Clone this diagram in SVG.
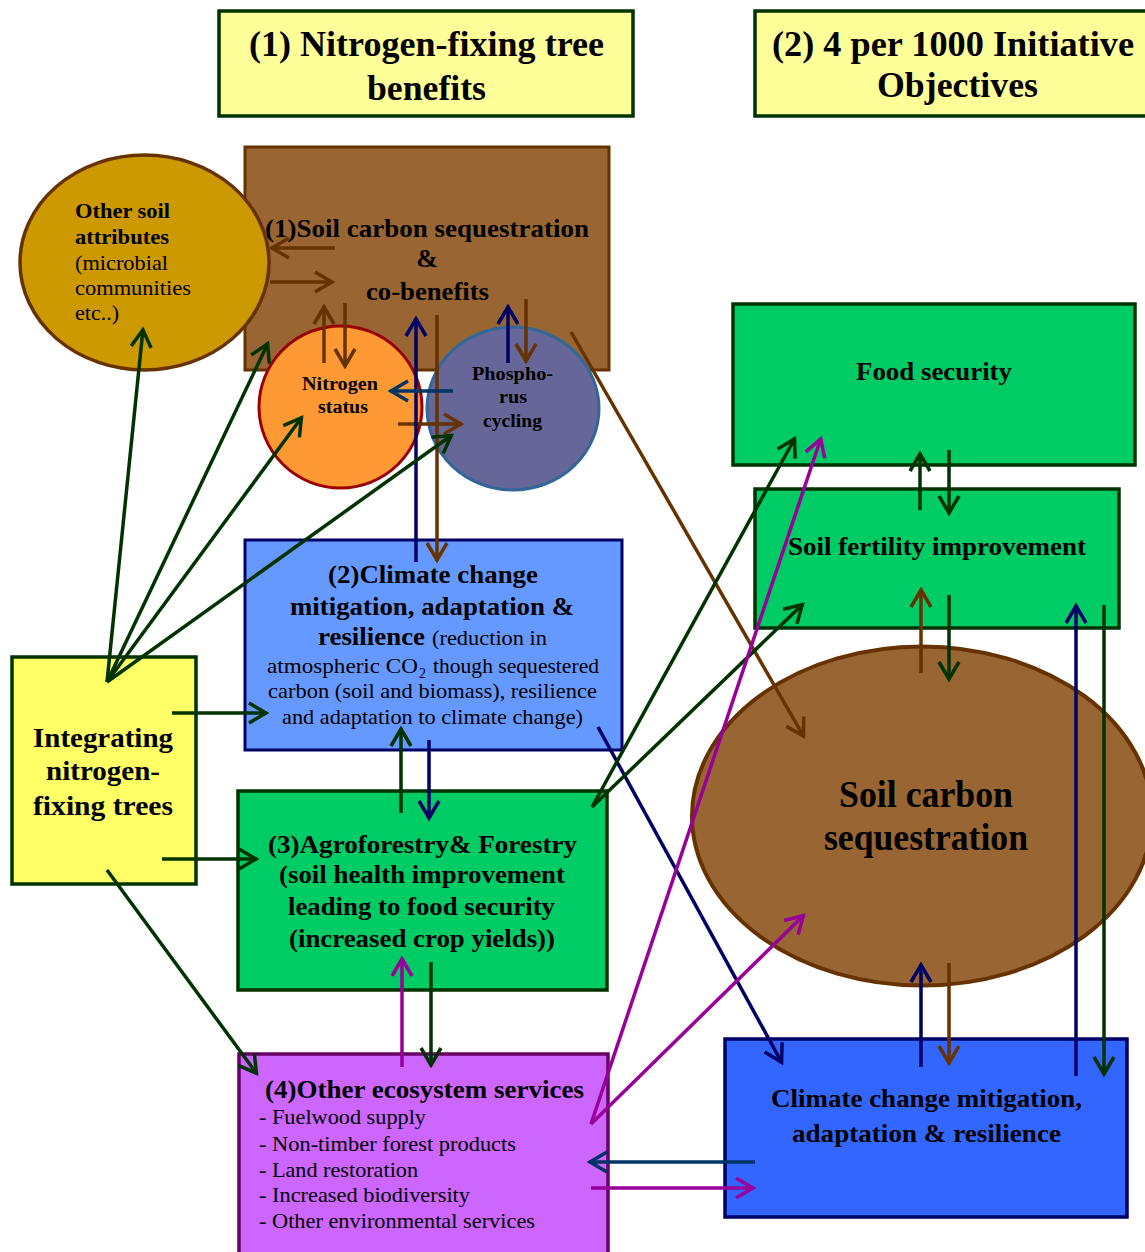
<svg xmlns="http://www.w3.org/2000/svg" width="1145" height="1252" viewBox="0 0 1145 1252">
<defs>
<style>
text{font-family:"Liberation Serif","Times New Roman",serif;fill:#000}
.b{font-weight:bold}
.t{font-size:35px;font-weight:bold}
.c{fill:none;stroke-width:3.5}
.g{stroke:#003300}
.n{stroke:#000066}
.n2{stroke:#003366}
.br{stroke:#663300}
.p{stroke:#990099}
</style>
<marker id="mg" viewBox="-22 -13 26 26" refX="0" refY="0" markerWidth="26" markerHeight="26" orient="auto" markerUnits="userSpaceOnUse"><path d="M-18,-10 L-1,0 L-18,10" fill="none" stroke="#003300" stroke-width="3.5"/></marker>
<marker id="mn" viewBox="-22 -13 26 26" refX="0" refY="0" markerWidth="26" markerHeight="26" orient="auto" markerUnits="userSpaceOnUse"><path d="M-18,-10 L-1,0 L-18,10" fill="none" stroke="#000066" stroke-width="3.5"/></marker>
<marker id="mn2" viewBox="-22 -13 26 26" refX="0" refY="0" markerWidth="26" markerHeight="26" orient="auto" markerUnits="userSpaceOnUse"><path d="M-18,-10 L-1,0 L-18,10" fill="none" stroke="#003366" stroke-width="3.5"/></marker>
<marker id="mb" viewBox="-22 -13 26 26" refX="0" refY="0" markerWidth="26" markerHeight="26" orient="auto" markerUnits="userSpaceOnUse"><path d="M-18,-10 L-1,0 L-18,10" fill="none" stroke="#663300" stroke-width="3.5"/></marker>
<marker id="mp" viewBox="-22 -13 26 26" refX="0" refY="0" markerWidth="26" markerHeight="26" orient="auto" markerUnits="userSpaceOnUse"><path d="M-18,-10 L-1,0 L-18,10" fill="none" stroke="#990099" stroke-width="3.5"/></marker>
</defs>
<rect width="1145" height="1252" fill="#fff"/>

<g id="title1">
<rect x="219" y="11" width="414" height="105" fill="#FFFF99" stroke="#003300" stroke-width="3.5"/>
<text class="t" x="249" y="56" textLength="355" lengthAdjust="spacingAndGlyphs">(1) Nitrogen-fixing tree</text>
<text class="t" x="367" y="100" textLength="119" lengthAdjust="spacingAndGlyphs">benefits</text>
</g>
<g id="title2">
<rect x="755" y="11" width="395" height="105" fill="#FFFF99" stroke="#003300" stroke-width="3.5"/>
<text class="t" x="772" y="56" textLength="362" lengthAdjust="spacingAndGlyphs">(2) 4 per 1000 Initiative</text>
<text class="t" x="877" y="97" textLength="161" lengthAdjust="spacingAndGlyphs">Objectives</text>
</g>

<g id="soil-carbon-cobenefits">
<rect x="245" y="147" width="364" height="223" fill="#996633" stroke="#663300" stroke-width="3"/>
<text class="b" font-size="26" x="265" y="237" textLength="324" lengthAdjust="spacingAndGlyphs">(1)Soil carbon sequestration</text>
<text class="b" font-size="26" x="427" y="267" text-anchor="middle">&amp;</text>
<text class="b" font-size="26" x="366" y="300" textLength="123" lengthAdjust="spacingAndGlyphs">co-benefits</text>
</g>

<g id="other-soil-attributes">
<ellipse cx="144.5" cy="262.5" rx="124.5" ry="107.5" fill="#CC9900" stroke="#663300" stroke-width="3.5"/>
<text class="b" font-size="21" x="75" y="218" textLength="95" lengthAdjust="spacingAndGlyphs">Other soil</text>
<text class="b" font-size="21" x="75" y="244" textLength="94" lengthAdjust="spacingAndGlyphs">attributes</text>
<text font-size="21" x="75" y="270" textLength="93" lengthAdjust="spacingAndGlyphs">(microbial</text>
<text font-size="21" x="75" y="295" textLength="116" lengthAdjust="spacingAndGlyphs">communities</text>
<text font-size="21" x="75" y="320" textLength="44" lengthAdjust="spacingAndGlyphs">etc..)</text>
</g>

<g id="nitrogen-status">
<ellipse cx="340.5" cy="407" rx="81.5" ry="81" fill="#FF9933" stroke="#990000" stroke-width="3"/>
<text class="b" font-size="18" x="302" y="390" textLength="76" lengthAdjust="spacingAndGlyphs">Nitrogen</text>
<text class="b" font-size="18" x="318" y="413" textLength="50" lengthAdjust="spacingAndGlyphs">status</text>
</g>

<g id="phosphorus-cycling">
<ellipse cx="513" cy="408.5" rx="86" ry="81.5" fill="#666699" stroke="#336699" stroke-width="3"/>
<text class="b" font-size="18" x="472" y="380" textLength="81" lengthAdjust="spacingAndGlyphs">Phospho-</text>
<text class="b" font-size="18" x="499" y="403" textLength="28" lengthAdjust="spacingAndGlyphs">rus</text>
<text class="b" font-size="18" x="483" y="427" textLength="59" lengthAdjust="spacingAndGlyphs">cycling</text>
</g>

<g id="climate-change-2">
<rect x="245" y="540" width="377" height="210" fill="#6699FF" stroke="#000066" stroke-width="3"/>
<text class="b" font-size="25" x="328" y="583" textLength="210" lengthAdjust="spacingAndGlyphs">(2)Climate change</text>
<text class="b" font-size="25" x="290" y="615" textLength="284" lengthAdjust="spacingAndGlyphs">mitigation, adaptation &amp;</text>
<text class="b" font-size="25" x="318" y="645" textLength="107" lengthAdjust="spacingAndGlyphs">resilience</text>
<text font-size="21" x="432" y="645" textLength="115" lengthAdjust="spacingAndGlyphs">(reduction in</text>
<text font-size="21" x="267" y="673" textLength="151" lengthAdjust="spacingAndGlyphs">atmospheric CO</text>
<text font-size="14" x="419" y="678">2</text>
<text font-size="21" x="433" y="673" textLength="166" lengthAdjust="spacingAndGlyphs">though sequestered</text>
<text font-size="21" x="268" y="698" textLength="329" lengthAdjust="spacingAndGlyphs">carbon (soil and biomass), resilience</text>
<text font-size="21" x="282" y="724" textLength="301" lengthAdjust="spacingAndGlyphs">and adaptation to climate change)</text>
</g>

<g id="agroforestry-3">
<rect x="238" y="791" width="369" height="199" fill="#00CC66" stroke="#003300" stroke-width="3.5"/>
<text class="b" font-size="25" x="268" y="853" textLength="309" lengthAdjust="spacingAndGlyphs">(3)Agroforestry&amp; Forestry</text>
<text class="b" font-size="25" x="279" y="883" textLength="286" lengthAdjust="spacingAndGlyphs">(soil health improvement</text>
<text class="b" font-size="25" x="288" y="915" textLength="267" lengthAdjust="spacingAndGlyphs">leading to food security</text>
<text class="b" font-size="25" x="289" y="947" textLength="266" lengthAdjust="spacingAndGlyphs">(increased crop yields))</text>
</g>

<g id="other-ecosystem-services-4">
<rect x="239" y="1054" width="369" height="210" fill="#CC66FF" stroke="#660066" stroke-width="3.5"/>
<text class="b" font-size="25" x="265" y="1098" textLength="319" lengthAdjust="spacingAndGlyphs">(4)Other ecosystem services</text>
<text font-size="21" x="259" y="1124" textLength="167" lengthAdjust="spacingAndGlyphs">- Fuelwood supply</text>
<text font-size="21" x="259" y="1151" textLength="257" lengthAdjust="spacingAndGlyphs">- Non-timber forest products</text>
<text font-size="21" x="259" y="1177" textLength="159" lengthAdjust="spacingAndGlyphs">- Land restoration</text>
<text font-size="21" x="259" y="1202" textLength="211" lengthAdjust="spacingAndGlyphs">- Increased biodiversity</text>
<text font-size="21" x="259" y="1228" textLength="276" lengthAdjust="spacingAndGlyphs">- Other environmental services</text>
</g>

<g id="integrating">
<rect x="12" y="657" width="184" height="227" fill="#FFFF66" stroke="#003300" stroke-width="3.5"/>
<text class="b" font-size="28" x="33" y="747" textLength="140" lengthAdjust="spacingAndGlyphs">Integrating</text>
<text class="b" font-size="28" x="46" y="780" textLength="114" lengthAdjust="spacingAndGlyphs">nitrogen-</text>
<text class="b" font-size="28" x="33" y="815" textLength="140" lengthAdjust="spacingAndGlyphs">fixing trees</text>
</g>

<g id="food-security">
<rect x="733" y="304" width="402" height="161" fill="#00CC66" stroke="#003300" stroke-width="3.5"/>
<text class="b" font-size="26" x="856" y="380" textLength="156" lengthAdjust="spacingAndGlyphs">Food security</text>
</g>

<g id="soil-fertility">
<rect x="755" y="489" width="364" height="139" fill="#00CC66" stroke="#003300" stroke-width="3.5"/>
<text class="b" font-size="26" x="788" y="555" textLength="298" lengthAdjust="spacingAndGlyphs">Soil fertility improvement</text>
</g>

<g id="soil-carbon-sequestration">
<ellipse cx="922" cy="816" rx="230" ry="169.5" fill="#996633" stroke="#663300" stroke-width="4"/>
<text class="b" font-size="37" x="839" y="807" textLength="174" lengthAdjust="spacingAndGlyphs">Soil carbon</text>
<text class="b" font-size="37" x="824" y="850" textLength="204" lengthAdjust="spacingAndGlyphs">sequestration</text>
</g>

<g id="climate-change-objective">
<rect x="725" y="1039" width="402" height="178" fill="#3366FF" stroke="#000066" stroke-width="3.5"/>
<text class="b" font-size="25" x="771" y="1107" textLength="311" lengthAdjust="spacingAndGlyphs">Climate change mitigation,</text>
<text class="b" font-size="25" x="792" y="1142" textLength="269" lengthAdjust="spacingAndGlyphs">adaptation &amp; resilience</text>
</g>

<g id="connectors">
<path class="c br" marker-end="url(#mb)" d="M335,248 L271,248"/>
<path class="c br" marker-end="url(#mb)" d="M270,282 L333,282"/>
<path class="c br" marker-end="url(#mb)" d="M324,363 L324,306"/>
<path class="c br" marker-end="url(#mb)" d="M345,303 L345,367"/>
<path class="c br" marker-end="url(#mb)" d="M437,315 L437,561"/>
<path class="c br" marker-end="url(#mb)" d="M526,299 L526,362"/>
<path class="c br" marker-end="url(#mb)" d="M398,424 L462,424"/>
<path class="c br" stroke-width="3" marker-end="url(#mb)" d="M571,332 L804,737"/>
<path class="c br" marker-end="url(#mb)" d="M921,673 L921,589"/>
<path class="c br" marker-end="url(#mb)" d="M949,963 L949,1064"/>

<path class="c n" marker-end="url(#mn)" d="M416,562 L416,318"/>
<path class="c n" marker-end="url(#mn)" d="M508,363 L508,306"/>
<path class="c n" marker-end="url(#mn)" d="M429,740 L429,819"/>
<path class="c n" marker-end="url(#mn)" d="M598,727 L782,1063"/>
<path class="c n" marker-end="url(#mn)" d="M921,1067 L921,964"/>
<path class="c n" marker-end="url(#mn)" d="M1076,1076 L1076,605"/>
<path class="c n2" marker-end="url(#mn2)" d="M453,391 L390,391"/>
<path class="c n2" marker-end="url(#mn2)" d="M755,1162 L589,1162"/>

<path class="c g" marker-end="url(#mg)" d="M107,682 L143,329"/>
<path class="c g" marker-end="url(#mg)" d="M107,682 L268,343"/>
<path class="c g" marker-end="url(#mg)" d="M107,682 L302,417"/>
<path class="c g" marker-end="url(#mg)" d="M107,682 L452,435"/>
<path class="c g" marker-end="url(#mg)" d="M172,713 L267,713"/>
<path class="c g" marker-end="url(#mg)" d="M162,859 L257,859"/>
<path class="c g" marker-end="url(#mg)" d="M107,870 L257,1074"/>
<path class="c g" marker-end="url(#mg)" d="M401,813 L401,728"/>
<path class="c g" marker-end="url(#mg)" d="M431,962 L431,1066"/>
<path class="c g" marker-end="url(#mg)" d="M592,807 L795,438"/>
<path class="c g" marker-end="url(#mg)" d="M592,807 L803,604"/>
<path class="c g" marker-end="url(#mg)" d="M920,510 L920,453"/>
<path class="c g" marker-end="url(#mg)" d="M949,450 L949,514"/>
<path class="c g" marker-end="url(#mg)" d="M949,595 L949,680"/>
<path class="c g" marker-end="url(#mg)" d="M1104,605 L1104,1075"/>

<path class="c p" marker-end="url(#mp)" d="M402,1067 L402,958"/>
<path class="c p" stroke-width="3" marker-end="url(#mp)" d="M591,1124 L821,438"/>
<path class="c p" stroke-width="3" marker-end="url(#mp)" d="M591,1124 L804,915"/>
<path class="c p" marker-end="url(#mp)" d="M591,1188 L754,1188"/>
</g>
</svg>
